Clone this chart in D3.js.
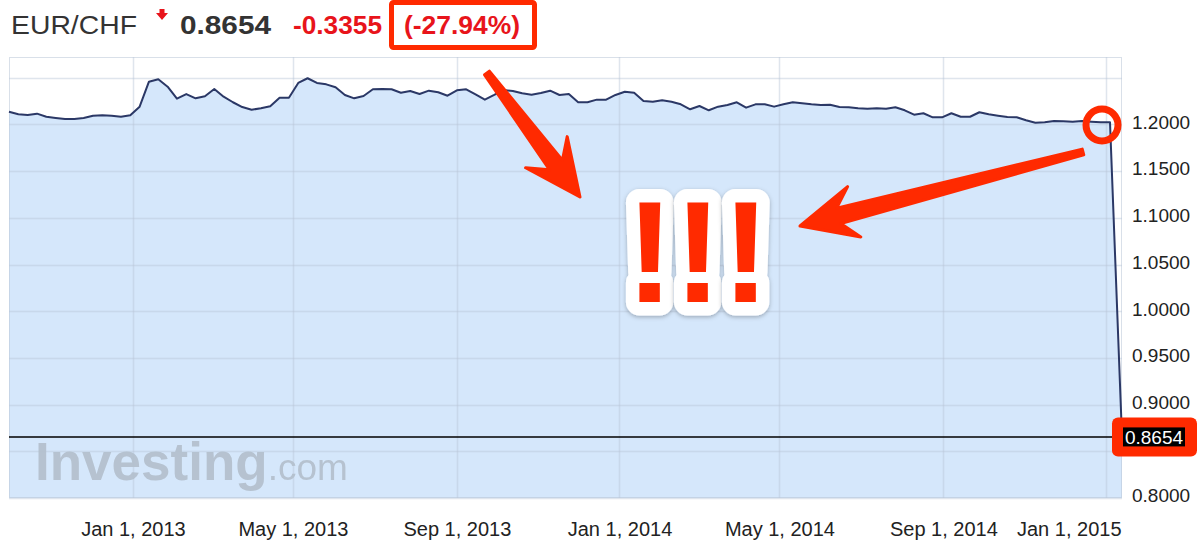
<!DOCTYPE html>
<html>
<head>
<meta charset="utf-8">
<script src="https://cdn.jsdelivr.net/npm/d3@7"></script>
<style>
  html, body { margin: 0; padding: 0; background: #fff; }
  svg { display: block; font-family: "Liberation Sans", Arial, Helvetica, sans-serif; }
</style>
</head>
<body>
<svg id="chart" width="1200" height="552"></svg>
<script>
// ---------------- DATA ----------------
const pairName = "EUR/CHF";
const lastPrice = 0.8654;
const priceChange = -0.3355;
const pctChange = -27.94;

// weekly closes, Sep 30 2012 .. Jan 4 2015, then last quote
const rates = [
  1.2136, 1.2108, 1.2101, 1.2115, 1.2082, 1.2069, 1.2058, 1.2058, 1.2069, 1.2093,
  1.2097, 1.2093, 1.2082, 1.2097, 1.2190, 1.2457, 1.2483, 1.2404, 1.2275, 1.2325,
  1.2279, 1.2301, 1.2379, 1.2297, 1.2237, 1.2186, 1.2157, 1.2172, 1.2194, 1.2286,
  1.2286, 1.2444, 1.2494, 1.2444, 1.2429, 1.2397, 1.2315, 1.2279, 1.2304, 1.2376,
  1.2379, 1.2376, 1.2339, 1.2358, 1.2325, 1.2361, 1.2344, 1.2307, 1.2365, 1.2376,
  1.2322, 1.2265, 1.2315, 1.2368, 1.2358, 1.2333, 1.2318, 1.2336, 1.2361, 1.2315,
  1.2325, 1.2237, 1.2237, 1.2265, 1.2265, 1.2315, 1.2350, 1.2339, 1.2251, 1.2243,
  1.2258, 1.2243, 1.2215, 1.2162, 1.2197, 1.2151, 1.2190, 1.2208, 1.2237, 1.2179,
  1.2215, 1.2215, 1.2190, 1.2215, 1.2237, 1.2226, 1.2215, 1.2208, 1.2211, 1.2186,
  1.2183, 1.2173, 1.2168, 1.2172, 1.2168, 1.2183, 1.2151, 1.2104, 1.2119, 1.2076,
  1.2076, 1.2119, 1.2082, 1.2082, 1.2130, 1.2108, 1.2093, 1.2079, 1.2076, 1.2044,
  1.2018, 1.2022, 1.2036, 1.2033, 1.2029, 1.2036, 1.2029, 1.2022, 1.2022,
  0.8654
];
const firstWeek = new Date(2012, 8, 30);
const lastWeekEnd = new Date(2015, 0, 5);
const lastQuoteDate = new Date(2015, 0, 13);
const dates = d3.timeWeek.range(firstWeek, lastWeekEnd).concat([lastQuoteDate]);

const xTickDates = [
  new Date(2013, 0, 1), new Date(2013, 4, 1), new Date(2013, 8, 1),
  new Date(2014, 0, 1), new Date(2014, 4, 1), new Date(2014, 8, 1),
  new Date(2015, 0, 1)
];
// 0.8500 label is hidden under the last-price badge in the reference
const yTicks = [0.80, 0.90, 0.95, 1.00, 1.05, 1.10, 1.15, 1.20];
const yGrid = [0.80, 0.85, 0.90, 0.95, 1.00, 1.05, 1.10, 1.15, 1.20, 1.25];

const series = dates.map((d, i) => ({ date: d, value: rates[i] }));

// ---------------- LAYOUT ----------------
const plot = { left: 9, right: 1122, top: 57, bottom: 498 };
const RED = "#ff2a00";
const TEXT_RED = "#e8141b";

const locale = d3.formatLocale({ decimal: ".", thousands: ",", grouping: [3], currency: ["$", ""], minus: "-" });
const fmt4 = locale.format(".4f");
const fmt2 = locale.format(".2f");

const svg = d3.select("#chart");

const x = d3.scaleTime()
  .domain([firstWeek, lastQuoteDate])
  .range([plot.left, plot.right]);
const y = d3.scaleLinear()
  .domain([0.80, 1.25])
  .range([plot.bottom, 77.7]);

// plot background
svg.append("rect")
  .attr("x", plot.left).attr("y", plot.top)
  .attr("width", plot.right - plot.left).attr("height", plot.bottom - plot.top)
  .attr("fill", "#fff");

// area
const area = d3.area()
  .x(d => x(d.date))
  .y0(plot.bottom)
  .y1(d => y(d.value));
svg.append("path")
  .datum(series)
  .attr("d", area)
  .attr("fill", "#d5e7fb");

// grid lines (over the fill)
const grid = svg.append("g").attr("class", "grid");
grid.selectAll("line.h").data(yGrid).join("line")
  .attr("class", "h")
  .attr("x1", plot.left).attr("x2", plot.right)
  .attr("y1", d => Math.round(y(d)) + 0.5).attr("y2", d => Math.round(y(d)) + 0.5)
  .attr("stroke", "rgba(185,198,215,0.45)").attr("stroke-width", 1.5);
grid.selectAll("line.v").data(xTickDates).join("line")
  .attr("class", "v")
  .attr("x1", d => Math.round(x(d)) + 0.5).attr("x2", d => Math.round(x(d)) + 0.5)
  .attr("y1", plot.top).attr("y2", plot.bottom)
  .attr("stroke", "rgba(185,198,215,0.45)").attr("stroke-width", 1.5);

// plot border
svg.append("rect")
  .attr("x", plot.left + 0.5).attr("y", plot.top + 0.5)
  .attr("width", plot.right - plot.left - 1).attr("height", plot.bottom - plot.top - 1)
  .attr("fill", "none")
  .attr("stroke", "rgba(185,198,215,0.55)").attr("stroke-width", 1);

// watermark
const wm = svg.append("text")
  .attr("x", 35).attr("y", 480)
  .attr("fill", "#b3bfcc")
  .attr("opacity", 0.9);
wm.append("tspan").attr("font-size", 53).attr("font-weight", "bold").text("Investing");
wm.append("tspan").attr("font-size", 37).attr("font-weight", "normal").text(".com");

// last price horizontal line
svg.append("line")
  .attr("x1", plot.left).attr("x2", 1123)
  .attr("y1", y(lastPrice)).attr("y2", y(lastPrice))
  .attr("stroke", "#000").attr("stroke-width", 1.5);

// price line
const line = d3.line()
  .x(d => x(d.date))
  .y(d => y(d.value));
svg.append("path")
  .datum(series)
  .attr("d", line)
  .attr("fill", "none")
  .attr("stroke", "#2b3866")
  .attr("stroke-width", 2)
  .attr("stroke-linejoin", "round");

// x axis
const xAxis = d3.axisBottom(x)
  .tickValues(xTickDates)
  .tickFormat(d3.timeFormat("%b %-d, %Y"))
  .tickSize(0)
  .tickPadding(0);
const gx = svg.append("g")
  .attr("transform", `translate(0, 522)`)
  .call(xAxis);
gx.select(".domain").remove();
gx.selectAll("text")
  .attr("font-size", 20)
  .attr("fill", "#222")
  .attr("font-family", "Liberation Sans, Arial, sans-serif")
  .attr("dy", "0.71em");
// justify last label inside plot
gx.selectAll(".tick").filter((d, i, n) => i === n.length - 1)
  .select("text")
  .attr("text-anchor", "end")
  .attr("x", plot.right - x(xTickDates[xTickDates.length - 1]) - 1);

// y axis (right)
const yAxis = d3.axisRight(y)
  .tickValues(yTicks)
  .tickFormat(fmt4)
  .tickSize(0)
  .tickPadding(0);
const gy = svg.append("g")
  .attr("transform", `translate(1132, 0)`)
  .call(yAxis);
gy.select(".domain").remove();
gy.selectAll("text")
  .attr("font-size", 19)
  .attr("fill", "#222")
  .attr("font-family", "Liberation Sans, Arial, sans-serif")
  .attr("dy", "0.2em");

// last price label
const ly = y(lastPrice);
svg.append("rect")
  .attr("x", 1112).attr("y", ly - 19.5)
  .attr("width", 85).attr("height", 39)
  .attr("rx", 6).attr("fill", RED);
svg.append("rect")
  .attr("x", 1123).attr("y", ly - 9.5)
  .attr("width", 62).attr("height", 19)
  .attr("fill", "#000");
svg.append("text")
  .attr("x", 1154).attr("y", ly + 7)
  .attr("text-anchor", "middle")
  .attr("font-size", 19)
  .attr("fill", "#fff")
  .text(fmt4(lastPrice));

// ---------------- HEADER ----------------
svg.append("text")
  .attr("x", 11).attr("y", 34)
  .attr("font-size", 26).attr("fill", "#333")
  .attr("textLength", 126).attr("lengthAdjust", "spacingAndGlyphs")
  .text(pairName);
// small down arrow icon
svg.append("path")
  .attr("d", "M159.5,9 h5 v4 h3.5 l-6,7 l-6,-7 h3.5 z")
  .attr("fill", TEXT_RED);
svg.append("text")
  .attr("x", 180).attr("y", 34)
  .attr("font-size", 26).attr("font-weight", "bold").attr("fill", "#333")
  .attr("textLength", 91).attr("lengthAdjust", "spacingAndGlyphs")
  .text(fmt4(lastPrice));
svg.append("text")
  .attr("x", 293).attr("y", 34)
  .attr("font-size", 26).attr("font-weight", "bold").attr("fill", TEXT_RED)
  .attr("textLength", 89).attr("lengthAdjust", "spacingAndGlyphs")
  .text(fmt4(priceChange));
svg.append("rect")
  .attr("x", 391.5).attr("y", 2.5)
  .attr("width", 143).attr("height", 45)
  .attr("rx", 2)
  .attr("fill", "#fff").attr("stroke", RED).attr("stroke-width", 5);
svg.append("text")
  .attr("x", 404).attr("y", 34)
  .attr("font-size", 26).attr("font-weight", "bold").attr("fill", TEXT_RED)
  .attr("textLength", 116).attr("lengthAdjust", "spacingAndGlyphs")
  .text(`(${fmt2(pctChange)}%)`);

// ---------------- ANNOTATIONS ----------------
function arrow(tail, tip) {
  const dx = tip[0] - tail[0], dy = tip[1] - tail[1];
  const L = Math.hypot(dx, dy);
  const ux = dx / L, uy = dy / L, vx = -uy, vy = ux;
  const P = (u, v) => [tail[0] + ux * u + vx * v, tail[1] + uy * u + vy * v];
  const pts = [
    P(0, -3), P(L - 40, -8), P(L - 56, -26), P(L, 0),
    P(L - 56, 26), P(L - 40, 8), P(0, 3)
  ];
  svg.append("path")
    .attr("d", "M" + pts.map(p => p.join(",")).join("L") + "Z")
    .attr("fill", RED).attr("stroke", RED)
    .attr("stroke-width", 3).attr("stroke-linejoin", "round");
}
arrow([487, 73], [580, 197]);
arrow([1083, 152], [800, 226]);

// circle around last pre-drop point
svg.append("circle")
  .attr("cx", 1102).attr("cy", 125).attr("r", 16)
  .attr("fill", "none").attr("stroke", RED).attr("stroke-width", 7);

// "!!!" stickers
const defs = svg.append("defs");
const f = defs.append("filter").attr("id", "shadow")
  .attr("x", "-30%").attr("y", "-30%").attr("width", "160%").attr("height", "160%");
f.append("feDropShadow").attr("dx", 0).attr("dy", 1.5)
  .attr("stdDeviation", 2).attr("flood-color", "#000").attr("flood-opacity", 0.28);

const bangs = ["!", "!", "!"];
const bangX = [650, 698, 746];
bangs.forEach((b, i) => {
  const g = svg.append("g");
  g.append("text")
    .attr("x", bangX[i]).attr("y", 302)
    .attr("text-anchor", "middle")
    .attr("font-size", 145).attr("font-weight", "bold")
    .attr("fill", "#fff").attr("stroke", "#fff")
    .attr("stroke-width", 27).attr("stroke-linejoin", "round")
    .attr("filter", "url(#shadow)")
    .text(b);
  g.append("text")
    .attr("x", bangX[i]).attr("y", 302)
    .attr("text-anchor", "middle")
    .attr("font-size", 145).attr("font-weight", "bold")
    .attr("fill", RED)
    .text(b);
});
</script>
</body>
</html>
